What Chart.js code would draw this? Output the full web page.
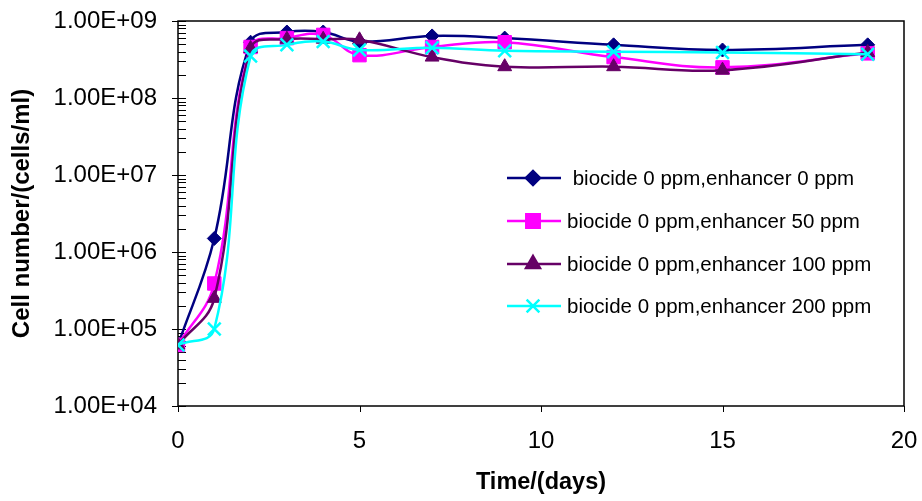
<!DOCTYPE html>
<html lang="en">
<head>
    <meta charset="utf-8">
    <title>Cell number vs time</title>
    <script src="https://cdn.jsdelivr.net/npm/chart.js"></script>
    <style>
        html, body { margin: 0; padding: 0; background: #fff; }
    </style>
</head>
<body>
<canvas id="growthChart" width="922" height="501"></canvas>

<script>
    // values
    const days = [0, 1, 2, 3, 4, 5, 7, 9, 12, 15, 19]
    const enhancer0 = [6.2e4, 1.5e6, 5.3e8, 7.2e8, 7.2e8, 5.4e8, 6.4e8, 6.0e8, 4.9e8, 4.2e8, 4.9e8]
    const enhancer50 = [6.2e4, 3.9e5, 4.6e8, 6.0e8, 6.6e8, 3.6e8, 4.6e8, 5.3e8, 3.4e8, 2.5e8, 3.8e8]
    const enhancer100 = [6.2e4, 2.5e5, 4.4e8, 5.8e8, 5.8e8, 5.7e8, 3.4e8, 2.55e8, 2.55e8, 2.3e8, 3.9e8]
    const enhancer200 = [6.2e4, 1.0e5, 3.5e8, 4.9e8, 5.4e8, 4.2e8, 4.5e8, 4.1e8, 4.0e8, 3.9e8, 3.7e8]

    const seriesLabels = [
        ' biocide 0 ppm,enhancer 0 ppm',
        'biocide 0 ppm,enhancer 50 ppm',
        'biocide 0 ppm,enhancer 100 ppm',
        'biocide 0 ppm,enhancer 200 ppm'
    ]
    const xTicks = [0, 5, 10, 15, 20]
    const yMajorTicks = [1e4, 1e5, 1e6, 1e7, 1e8, 1e9]
    const yTickLabels = ['1.00E+04', '1.00E+05', '1.00E+06', '1.00E+07', '1.00E+08', '1.00E+09']

    // minor ticks 2..9 inside each decade
    let yAllTicks = []
    yMajorTicks.forEach(function (m, i) {
        yAllTicks.push(m)
        if (i < yMajorTicks.length - 1) {
            for (let k = 2; k < 10; k++) yAllTicks.push(m * k)
        }
    })

    const font = "'Liberation Sans', Arial, sans-serif"

    function toPoints(values) {
        return values.map(function (v, i) { return {x: days[i], y: v} })
    }

    // frame, tick marks and legend
    const framePlugin = {
        id: 'framePlugin',
        beforeDatasetsDraw(chart) {
            const ctx = chart.ctx
            const a = chart.chartArea
            const xScale = chart.scales.x
            const yScale = chart.scales.y
            ctx.save()
            ctx.strokeStyle = '#000'
            ctx.lineWidth = 1.5
            ctx.strokeRect(a.left, a.top, a.right - a.left, a.bottom - a.top)
            ctx.lineWidth = 1
            yAllTicks.forEach(function (v) {
                const y = Math.round(yScale.getPixelForValue(v)) + 0.5
                const major = yMajorTicks.indexOf(v) !== -1
                ctx.beginPath()
                ctx.moveTo(major ? a.left - 6 : a.left, y)
                ctx.lineTo(a.left + 8, y)
                ctx.stroke()
            })
            xTicks.forEach(function (v) {
                const x = Math.round(xScale.getPixelForValue(v)) + 0.5
                ctx.beginPath()
                ctx.moveTo(x, a.bottom)
                ctx.lineTo(x, a.bottom + 6)
                ctx.stroke()
            })
            ctx.restore()
        },
        afterDraw(chart) {
            const ctx = chart.ctx
            const rowY = [178, 221, 264, 306]
            ctx.save()
            chart.data.datasets.forEach(function (ds, i) {
                const y = rowY[i]
                ctx.strokeStyle = ds.borderColor
                ctx.lineWidth = 2.5
                ctx.beginPath()
                ctx.moveTo(507, y)
                ctx.lineTo(561, y)
                ctx.stroke()
                ctx.fillStyle = ds.pointBackgroundColor
                ctx.strokeStyle = ds.pointBorderColor
                Chart.helpers.drawPoint(ctx, {
                    pointStyle: ds.pointStyle,
                    radius: ds.pointRadius,
                    borderWidth: ds.pointBorderWidth,
                    rotation: 0
                }, 533, y)
                ctx.fillStyle = '#000'
                ctx.font = '20.5px ' + font
                ctx.textBaseline = 'middle'
                ctx.fillText(ds.label, 567, y + 1)
            })
            ctx.restore()
        }
    }

    const growthChart = new Chart(document.getElementById('growthChart'), {
        type: 'line',
        data: {
            datasets: [{
                label: seriesLabels[0],
                data: toPoints(enhancer0),
                borderColor: '#000080',
                pointBackgroundColor: '#000080',
                pointBorderColor: '#000080',
                pointStyle: 'rectRot',
                pointRadius: 7,
                pointBorderWidth: 1,
                order: 4
            }, {
                label: seriesLabels[1],
                data: toPoints(enhancer50),
                borderColor: '#FF00FF',
                pointBackgroundColor: '#FF00FF',
                pointBorderColor: '#FF00FF',
                pointStyle: 'rect',
                pointRadius: 9.5,
                pointBorderWidth: 1,
                order: 3
            }, {
                label: seriesLabels[2],
                data: toPoints(enhancer100),
                borderColor: '#660066',
                pointBackgroundColor: '#660066',
                pointBorderColor: '#660066',
                pointStyle: 'triangle',
                pointRadius: 8,
                pointBorderWidth: 1,
                order: 2
            }, {
                label: seriesLabels[3],
                data: toPoints(enhancer200),
                borderColor: '#00FFFF',
                pointBackgroundColor: '#00FFFF',
                pointBorderColor: '#00FFFF',
                pointStyle: 'crossRot',
                pointRadius: 9,
                pointBorderWidth: 2.5,
                order: 1
            }]
        },
        options: {
            responsive: false,
            animation: false,
            elements: {
                line: {borderWidth: 2.5, tension: 0.4, fill: false}
            },
            layout: {
                padding: {left: 4, right: 18, top: 21, bottom: 0}
            },
            plugins: {
                legend: {display: false},
                tooltip: {enabled: false}
            },
            scales: {
                x: {
                    type: 'linear',
                    min: 0,
                    max: 20,
                    afterBuildTicks: function (scale) {
                        scale.ticks = xTicks.map(function (v) { return {value: v} })
                    },
                    afterFit: function (scale) { scale.height = 95 },
                    border: {display: false},
                    grid: {
                        drawOnChartArea: false,
                        tickLength: 17,
                        tickColor: 'rgba(0,0,0,0)'
                    },
                    ticks: {
                        color: '#000',
                        padding: 4,
                        maxRotation: 0,
                        font: {family: font, size: 24}
                    },
                    title: {
                        display: true,
                        text: 'Time/(days)',
                        color: '#000',
                        font: {family: font, size: 23.5, weight: 'bold'}
                    }
                },
                y: {
                    type: 'logarithmic',
                    min: 1e4,
                    max: 1e9,
                    afterBuildTicks: function (scale) {
                        scale.ticks = yAllTicks.map(function (v) { return {value: v} })
                    },
                    afterFit: function (scale) { scale.width = 174 },
                    border: {display: false},
                    grid: {
                        drawOnChartArea: false,
                        tickLength: 17,
                        tickColor: 'rgba(0,0,0,0)'
                    },
                    ticks: {
                        color: '#000',
                        padding: 4,
                        autoSkip: false,
                        font: {family: font, size: 24},
                        callback: function (value) {
                            const i = yMajorTicks.indexOf(value)
                            return i === -1 ? '' : yTickLabels[i]
                        }
                    },
                    title: {
                        display: true,
                        text: 'Cell number/(cells/ml)',
                        color: '#000',
                        font: {family: font, size: 24, weight: 'bold'}
                    }
                }
            }
        },
        plugins: [framePlugin]
    });
</script>
</body>
</html>
